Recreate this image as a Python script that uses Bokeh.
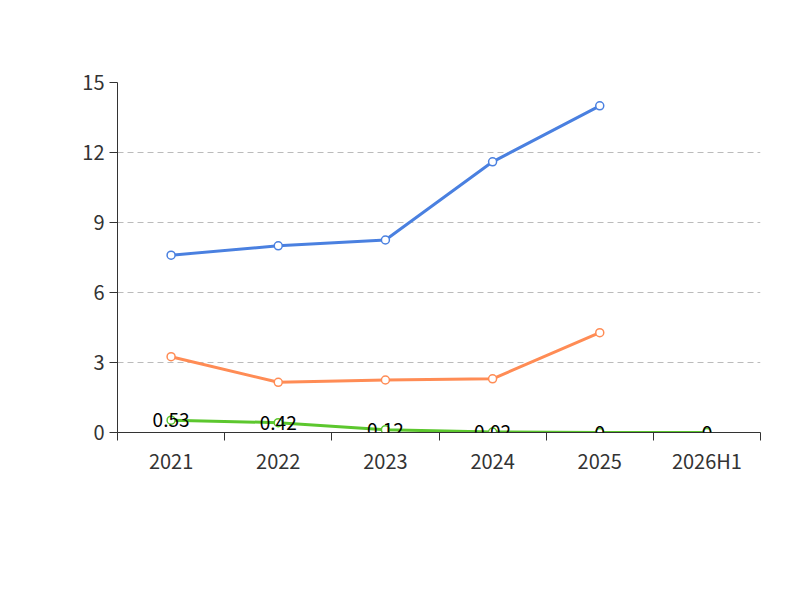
from bokeh.plotting import figure
from bokeh.models import FixedTicker, Label, Legend, LegendItem, Range1d
from bokeh.embed import file_html
from bokeh.resources import INLINE

years = ["2021", "2022", "2023", "2024", "2025", "2026H1"]
company = [0.53, 0.42, 0.12, 0.02, 0, 0]
ind_mean = [7.6, 8.0, 8.25, 11.6, 14.0]
ind_median = [3.25, 2.15, 2.25, 2.3, 4.28]

xs = [i + 0.5 for i in range(len(years))]
F = "Noto Sans CJK SC"

p = figure(width=784, height=584, output_backend="svg", toolbar_location=None,
           x_range=Range1d(0, 6), y_range=Range1d(0, 15),
           min_border_left=117, min_border_right=24, min_border_top=82, min_border_bottom=152)
p.outline_line_color = None
p.background_fill_color = "white"
p.xgrid.visible = False
p.ygrid.grid_line_dash = "6 4"
p.ygrid.grid_line_color = "#bbbbbb"
p.yaxis.ticker = FixedTicker(ticks=[0, 3, 6, 9, 12, 15])
p.xaxis.ticker = FixedTicker(ticks=xs, minor_ticks=list(range(7)))
p.xaxis.major_label_overrides = {x: y for x, y in zip(xs, years)}
p.xaxis.major_tick_line_color = None
p.xaxis.minor_tick_out = 8
p.xaxis.minor_tick_in = 0
p.xaxis.minor_tick_line_color = "#333333"
for ax in (p.xaxis, p.yaxis):
    ax.major_label_text_font = F
    ax.major_label_text_font_size = "20px"
    ax.major_label_text_color = "#333333"
    ax.axis_line_color = "#333333"
p.yaxis.major_tick_out = 8
p.yaxis.major_tick_in = 0
p.yaxis.minor_tick_line_color = None
p.yaxis.major_tick_line_color = "#333333"

c1, c2, c3 = "#5cc72e", "#4a80e0", "#ff8c55"
l1 = p.line(xs, company, line_color=c1, line_width=3)
r1 = p.scatter(xs, company, size=8, fill_color="white", line_color=c1, line_width=1.5)
l2 = p.line(xs[:5], ind_mean, line_color=c2, line_width=3)
r2 = p.scatter(xs[:5], ind_mean, size=8, fill_color="white", line_color=c2, line_width=1.5)
l3 = p.line(xs[:5], ind_median, line_color=c3, line_width=3)
r3 = p.scatter(xs[:5], ind_median, size=8, fill_color="white", line_color=c3, line_width=1.5)

for x, v in zip(xs, company):
    p.add_layout(Label(x=x, y=v, text=("%g" % v) if v else "0", text_align="center",
                       text_baseline="middle", text_font=F, text_font_size="19px",
                       text_color="black"))

leg = Legend(items=[LegendItem(label="有息资产负债率", renderers=[l1, r1]),
                    LegendItem(label="行业均值", renderers=[l2, r2]),
                    LegendItem(label="行业中位数", renderers=[l3, r3])],
             orientation="horizontal", label_text_font=F, label_text_font_size="20px",
             label_text_color="#333333", border_line_color=None, background_fill_alpha=0,
             glyph_width=50, spacing=20, margin=0, location=(-30, -115))
p.add_layout(leg, "center")

p.add_layout(Label(x=-63, y=315, x_units="screen", y_units="screen", text="(%)",
                   angle=1.5708, text_color="red", text_font=F, text_font_size="15px",
                   text_align="center", text_baseline="middle"))
p.add_layout(Label(x=282, y=418, x_units="screen", y_units="screen", text="近年来有息资产负债率情况(%)",
                   text_color="#333333", text_font=F, text_font_size="25px", text_font_style="bold",
                   text_align="center", text_baseline="middle"))
p.add_layout(Label(x=282, y=-150, x_units="screen", y_units="screen", text="制图数据来自恒生聚源数据库",
                   text_color="#c8961e", text_font=F, text_font_size="15px",
                   text_align="center", text_baseline="middle"))

open("out.html", "w").write(file_html(p, INLINE))
